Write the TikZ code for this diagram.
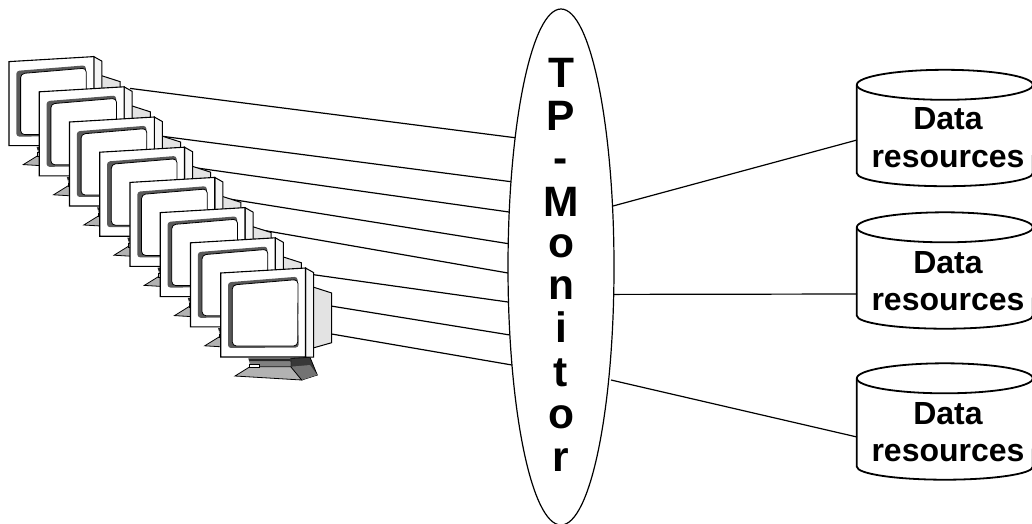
\documentclass[tikz,border=0pt]{standalone}
\usepackage{fontspec}
\usetikzlibrary{shapes.geometric}
\setmainfont{Liberation Sans}
\tikzset{
  x=1pt,y=-1pt,
  wire/.style={line width=1.2pt,black},
  dbbox/.style={inner sep=0pt,minimum width=176pt,minimum height=88pt},
  dbtext/.style={inner sep=0pt,align=center,font=\fontsize{32}{37.5}\selectfont\bfseries},
  dbshape/.style={line width=1.8pt},
  tpshape/.style={ellipse,draw,line width=1.2pt,fill=white,minimum width=106pt,minimum height=516pt,inner sep=0pt},
  vletter/.style={font=\fontsize{42.5}{44}\selectfont\bfseries,inner sep=0pt,anchor=base},
  pics/monitor/.style={code={
    % rear box
    \fill[gray!22,draw=black,line width=1pt] (93,14) -- (111.7,20) -- (111.7,69.7) -- (93,75) -- cycle;
    % base
    \fill[black!78,draw=black,line width=.8pt] (70.7,85.3) -- (90,84.3) -- (97.3,102) -- (81.7,107) -- (70.7,93.7) -- cycle;
    \fill[black!55] (70.7,93.7) -- (90,92) -- (97.3,102) -- (81.7,107) -- cycle;
    \fill[black!85] (28.3,85.3) -- (70.7,85.3) -- (70.7,88.7) -- (29.3,88.7) -- cycle;
    \fill[black!50] (29.3,88.7) -- (70.7,88.7) -- (70.7,93.7) -- (30,93.7) -- cycle;
    \fill[black!30,draw=black,line width=.8pt] (30,93.7) -- (70.7,93.7) -- (81.7,107) -- (15,103) -- cycle;
    \fill[white,draw=black,line width=.5pt] (29.3,91) rectangle (39,94.7);
    % cabinet
    \fill[black!4,draw=black,line width=1pt] (85.5,-5) -- (93.5,-.5) -- (93.5,84) -- (85.5,84) -- cycle;
    \fill[white,draw=black,line width=1.1pt] (.7,0) -- (85.5,-5) -- (85.5,84) -- (.7,84) -- cycle;
    % screen
    \fill[black!65,rounded corners=3pt] (8,9.3) -- (77.5,3.7) -- (78.7,74.5) -- (8,75) -- cycle;
    \fill[white,draw=black,line width=.8pt,rounded corners=4pt] (12.3,12) -- (78,6.5) -- (77.7,73) -- (12.3,73) -- cycle;
  }}
}
\begin{document}
\begin{tikzpicture}
\useasboundingbox (0,0) rectangle (1032,523);
\foreach \k/\sx/\sy/\ex/\ey in {
  1/130/88.4/515/137.7,
  2/160/136/511/181.7,
  3/190/167/509/212,
  4/220/197.5/508.5/243.7,
  5/250/228/508/273,
  6/280/270/508/302,
  7/300/301/510/335,
  8/320/332/512/365}{
  \coordinate (s\k) at (\sx,\sy);
  \coordinate (e\k) at (\ex,\ey);
  \draw[wire] (s\k) -- (e\k);
  \pgfmathsetmacro{\mx}{220+(\k-8)*30.24}
  \pgfmathsetmacro{\my}{273+(\k-8)*30.2}
  \pic (m\k) at (\mx,\my) {monitor};
}
% TP monitor
\node[tpshape] (tp) at (561,267) {};
\foreach \n/\c/\y in {a/T/87,b/P/130,c/-/172,d/M/216,e/o/257,f/n/299.5,g/i/342.5,h/t/386,j/o/428,k/r/471}{
  \node[vletter] (l\n) at (561,\y) {\c};
}
% databases
\foreach \n/\cy/\ty/\ey in {1/129/137.5/140,2/271.5/281/294,3/422.5/432/437}{
  \node[dbbox] (db\n) at (945,\cy) {};
  \node[dbtext] (dt\n) at (948,\ty) {Data\\resources};
  \draw[dbshape] (db\n.north west) arc[start angle=180,end angle=540,x radius=88pt,y radius=15pt];
  \draw[dbshape] (db\n.north west) -- (db\n.south west)
     arc[start angle=180,end angle=360,x radius=88pt,y radius=13pt] -- (db\n.north east);
  \coordinate (d\n) at (857,\ey);
}
\coordinate (r1) at (613,206);
\coordinate (r2) at (614,294.4);
\coordinate (r3) at (611,380);
\draw[wire] (r1) -- (d1);
\draw[wire] (r2) -- (d2);
\draw[wire] (r3) -- (d3);
\end{tikzpicture}
\end{document}
